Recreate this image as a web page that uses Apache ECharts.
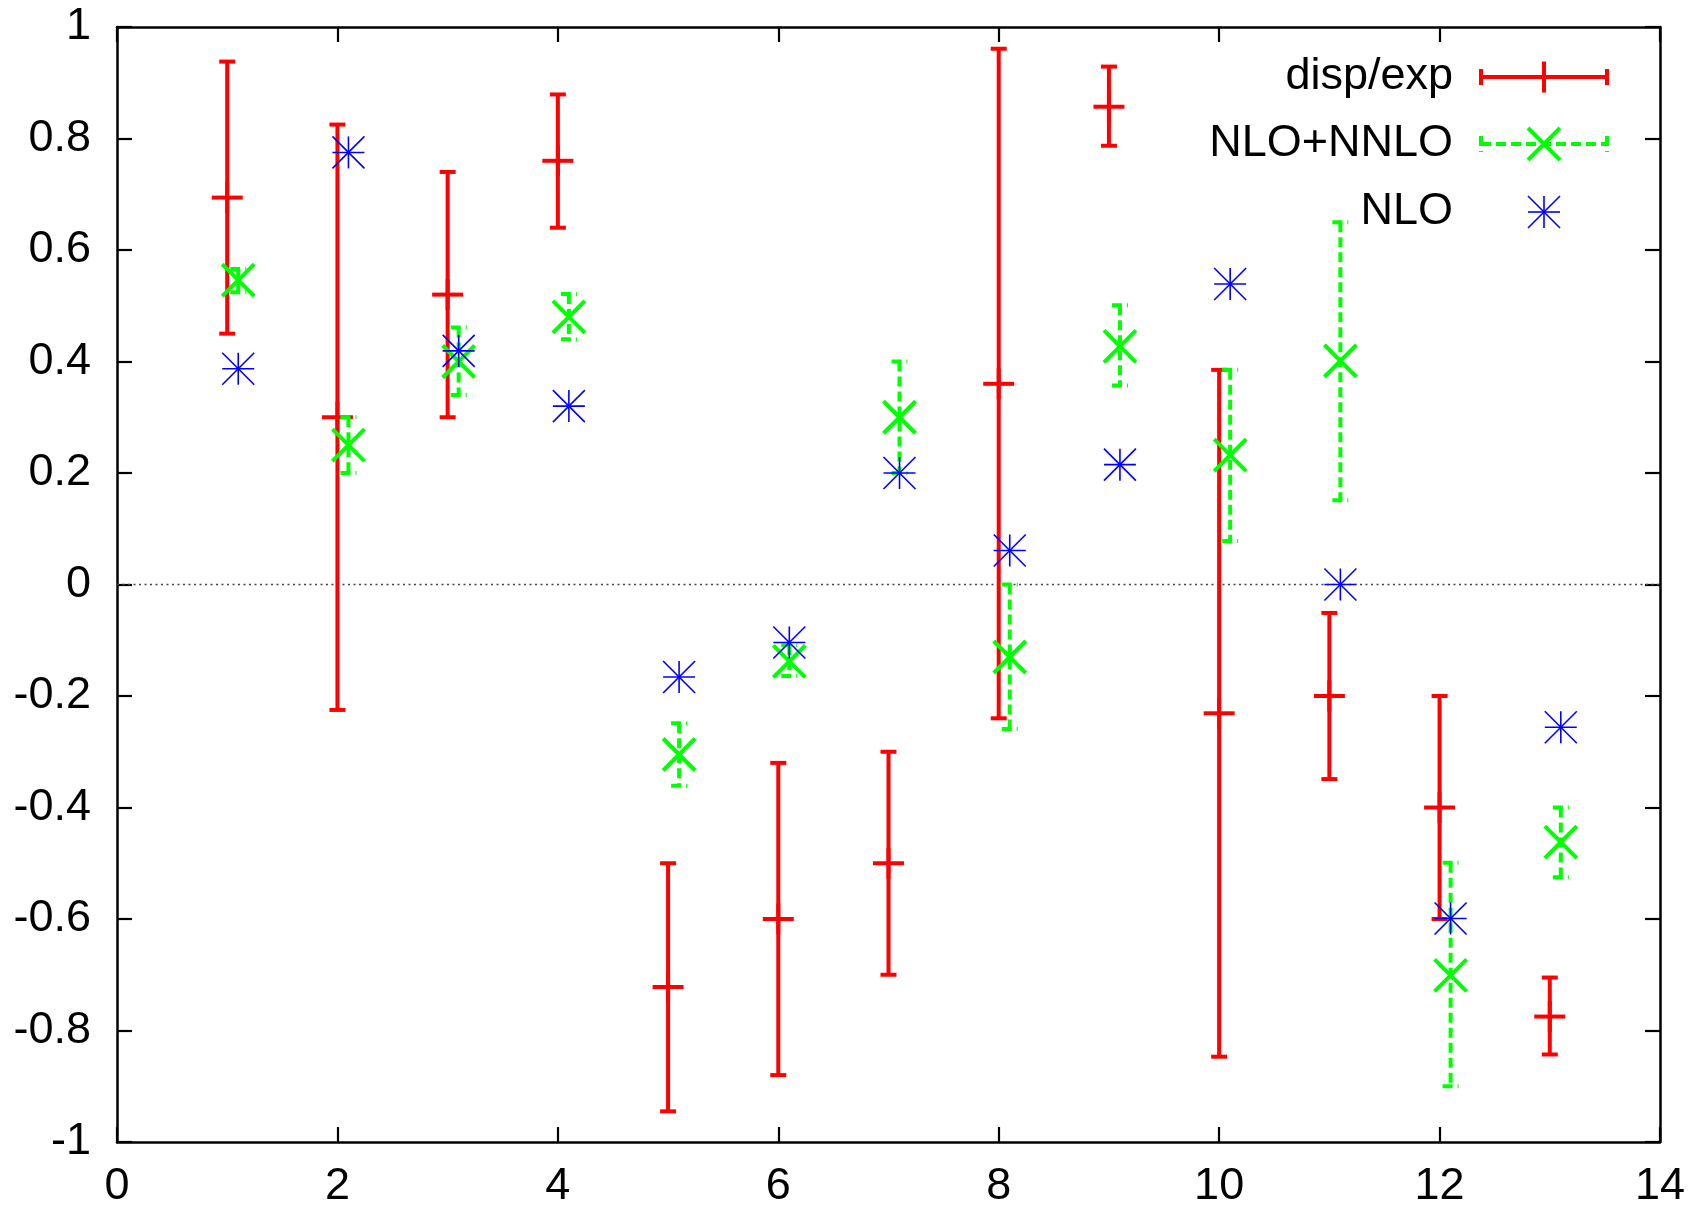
<!DOCTYPE html>
<html>
<head>
<meta charset="utf-8">
<script src="https://cdn.jsdelivr.net/npm/echarts@6/dist/echarts.min.js"></script>
<style>
  html, body { margin: 0; padding: 0; background: #ffffff; }
  #chart { width: 1695px; height: 1209px; }
</style>
</head>
<body>
<div id="chart"></div>
<script>
// ---------------- data ----------------
const xExp    = [1, 2, 3, 4, 5, 6, 7, 8, 9, 10, 11, 12, 13];
const xTheory = [1.1, 2.1, 3.1, 4.1, 5.1, 6.1, 7.1, 8.1, 9.1, 10.1, 11.1, 12.1, 13.1];

const dispVal  = [0.694, 0.30, 0.52, 0.76, -0.722, -0.60, -0.50, 0.36, 0.857, -0.231, -0.20, -0.40, -0.775];
const dispLow  = [0.45, -0.225, 0.30, 0.64, -0.945, -0.88, -0.70, -0.24, 0.787, -0.847, -0.349, -0.60, -0.843];
const dispHigh = [0.938, 0.825, 0.74, 0.879, -0.50, -0.32, -0.30, 0.961, 0.929, 0.385, -0.051, -0.20, -0.705];

const nnloVal  = [0.546, 0.25, 0.40, 0.48, -0.305, -0.138, 0.30, -0.130, 0.427, 0.232, 0.401, -0.701, -0.462];
const nnloLow  = [0.524, 0.20, 0.34, 0.44, -0.361, -0.164, 0.20, -0.259, 0.357, 0.078, 0.151, -0.90, -0.525];
const nnloHigh = [0.566, 0.30, 0.461, 0.521, -0.249, -0.109, 0.40, 0.0, 0.501, 0.385, 0.650, -0.499, -0.40];

const nloVal   = [0.387, 0.775, 0.419, 0.320, -0.166, -0.104, 0.200, 0.061, 0.215, 0.539, 0.0, -0.599, -0.256];

const zeroLine = [[0, 0], [14, 0]];

const xTickLabels = ['0', '2', '4', '6', '8', '10', '12', '14'];
const yTickLabels = ['-1', '-0.8', '-0.6', '-0.4', '-0.2', '0', '0.2', '0.4', '0.6', '0.8', '1'];

const seriesNames = ['disp/exp', 'NLO+NNLO', 'NLO'];

// ---------------- styles ----------------
const RED = '#ff0000', GREEN = '#00ff00', BLUE = '#0000ff';
const FONT = 'Liberation Sans, Arial, Helvetica, sans-serif';
const FS = 45;
const CAP = 8;        // half width of error bar caps
const PLUS = 15.5;    // half size of '+' point
const XS = 16;        // half size of 'x' point
const STAR = 16;      // half size of '*' point
const redStyle = { stroke: RED, lineWidth: 4, lineCap: 'butt' };
const greenStyle = { stroke: GREEN, lineWidth: 4, lineDash: [10, 5], lineCap: 'butt' };
const greenSolid = { stroke: GREEN, lineWidth: 4, lineCap: 'butt' };
const blueStyle = { stroke: BLUE, lineWidth: 1.6, lineCap: 'butt' };

function seg(x1, y1, x2, y2, style) {
  return { type: 'line', shape: { x1, y1, x2, y2 }, style: Object.assign({}, style) };
}
function plusMark(cx, cy) {
  return [seg(cx - PLUS, cy, cx + PLUS, cy, redStyle), seg(cx, cy - PLUS, cx, cy + PLUS, redStyle)];
}
function crossMark(cx, cy) {
  return [seg(cx - XS, cy - XS, cx + XS, cy + XS, greenSolid), seg(cx - XS, cy + XS, cx + XS, cy - XS, greenSolid)];
}
function starMark(cx, cy) {
  return [
    seg(cx - STAR, cy, cx + STAR, cy, blueStyle),
    seg(cx, cy - STAR, cx, cy + STAR, blueStyle),
    seg(cx - STAR, cy - STAR, cx + STAR, cy + STAR, blueStyle),
    seg(cx - STAR, cy + STAR, cx + STAR, cy - STAR, blueStyle)
  ];
}

function errorRender(kind) {
  return function (params, api) {
    const x = api.value(0);
    const c = api.coord([x, api.value(1)]);
    const lo = api.coord([x, api.value(2)]);
    const hi = api.coord([x, api.value(3)]);
    const st = kind === 'red' ? redStyle : greenStyle;
    const children = [
      seg(hi[0], hi[1], lo[0], lo[1], st),
      seg(lo[0] - CAP, lo[1], lo[0] + CAP, lo[1], st),
      seg(hi[0] - CAP, hi[1], hi[0] + CAP, hi[1], st)
    ].concat(kind === 'red' ? plusMark(c[0], c[1]) : crossMark(c[0], c[1]));
    return { type: 'group', children };
  };
}
function starRender(params, api) {
  const c = api.coord([api.value(0), api.value(1)]);
  return { type: 'group', children: starMark(c[0], c[1]) };
}

const dispData = xExp.map((x, i) => [x, dispVal[i], dispLow[i], dispHigh[i]]);
const nnloData = xTheory.map((x, i) => [x, nnloVal[i], nnloLow[i], nnloHigh[i]]);
const nloData = xTheory.map((x, i) => [x, nloVal[i]]);

// ---------------- legend (graphic) ----------------
const legX1 = 1481, legX2 = 1607, legCx = 1544, legTextX = 1453;
const legY = [77, 144, 212];
const legendChildren = [];
seriesNames.forEach((name, i) => {
  legendChildren.push({
    type: 'text', x: legTextX, y: legY[i],
    style: { text: name, x: 0, y: 0, align: 'right', verticalAlign: 'middle',
             font: FS + 'px ' + FONT, fill: '#000' }
  });
});
// disp/exp sample
legendChildren.push(seg(legX1, legY[0], legX2, legY[0], redStyle));
legendChildren.push(seg(legX1, legY[0] - CAP, legX1, legY[0] + CAP, redStyle));
legendChildren.push(seg(legX2, legY[0] - CAP, legX2, legY[0] + CAP, redStyle));
plusMark(legCx, legY[0]).forEach(s => legendChildren.push(s));
// NLO+NNLO sample
legendChildren.push(seg(legX1, legY[1], legX2, legY[1], greenStyle));
legendChildren.push(seg(legX1, legY[1] - CAP, legX1, legY[1] + CAP, greenStyle));
legendChildren.push(seg(legX2, legY[1] - CAP, legX2, legY[1] + CAP, greenStyle));
crossMark(legCx, legY[1]).forEach(s => legendChildren.push(s));
// NLO sample
starMark(legCx, legY[2]).forEach(s => legendChildren.push(s));

// ---------------- chart ----------------
const chart = echarts.init(document.getElementById('chart'), null, { renderer: 'canvas' });

const axisLineStyle = { show: true, onZero: false, lineStyle: { color: '#000', width: 2.5 } };
const tickStyle = { show: true, inside: true, length: 15, lineStyle: { color: '#000', width: 2.2 } };

const option = {
  animation: false,
  backgroundColor: '#ffffff',
  grid: { left: 117, right: 35, top: 27, bottom: 64, containLabel: false },
  xAxis: [
    {
      type: 'value', position: 'bottom', min: 0, max: 14, interval: 2,
      axisLine: axisLineStyle, axisTick: tickStyle, splitLine: { show: false },
      axisLabel: {
        color: '#000', fontFamily: FONT, fontSize: FS, margin: 22,
        formatter: v => xTickLabels[Math.round(v / 2)]
      }
    },
    {
      type: 'value', position: 'top', min: 0, max: 14, interval: 2,
      axisLine: axisLineStyle, axisTick: tickStyle, splitLine: { show: false },
      axisLabel: { show: false }
    }
  ],
  yAxis: [
    {
      type: 'value', position: 'left', min: -1, max: 1, interval: 0.2,
      axisLine: axisLineStyle, axisTick: tickStyle, splitLine: { show: false },
      axisLabel: {
        color: '#000', fontFamily: FONT, fontSize: FS, margin: 26,
        formatter: v => yTickLabels[Math.round((v + 1) / 0.2)]
      }
    },
    {
      type: 'value', position: 'right', min: -1, max: 1, interval: 0.2,
      axisLine: axisLineStyle, axisTick: tickStyle, splitLine: { show: false },
      axisLabel: { show: false }
    }
  ],
  series: [
    {
      type: 'line', name: 'zero', data: zeroLine, symbol: 'none', silent: true,
      lineStyle: { color: '#444444', width: 1.5, type: [2, 3.5] }, z: 1
    },
    {
      type: 'custom', name: seriesNames[0], data: dispData,
      encode: { x: 0, y: [1, 2, 3] }, renderItem: errorRender('red'), z: 2
    },
    {
      type: 'custom', name: seriesNames[1], data: nnloData,
      encode: { x: 0, y: [1, 2, 3] }, renderItem: errorRender('green'), z: 3
    },
    {
      type: 'custom', name: seriesNames[2], data: nloData,
      encode: { x: 0, y: 1 }, renderItem: starRender, z: 4
    }
  ],
  graphic: [{ type: 'group', x: 0, y: 0, children: legendChildren, z: 10 }]
};

chart.setOption(option);
</script>
</body>
</html>
